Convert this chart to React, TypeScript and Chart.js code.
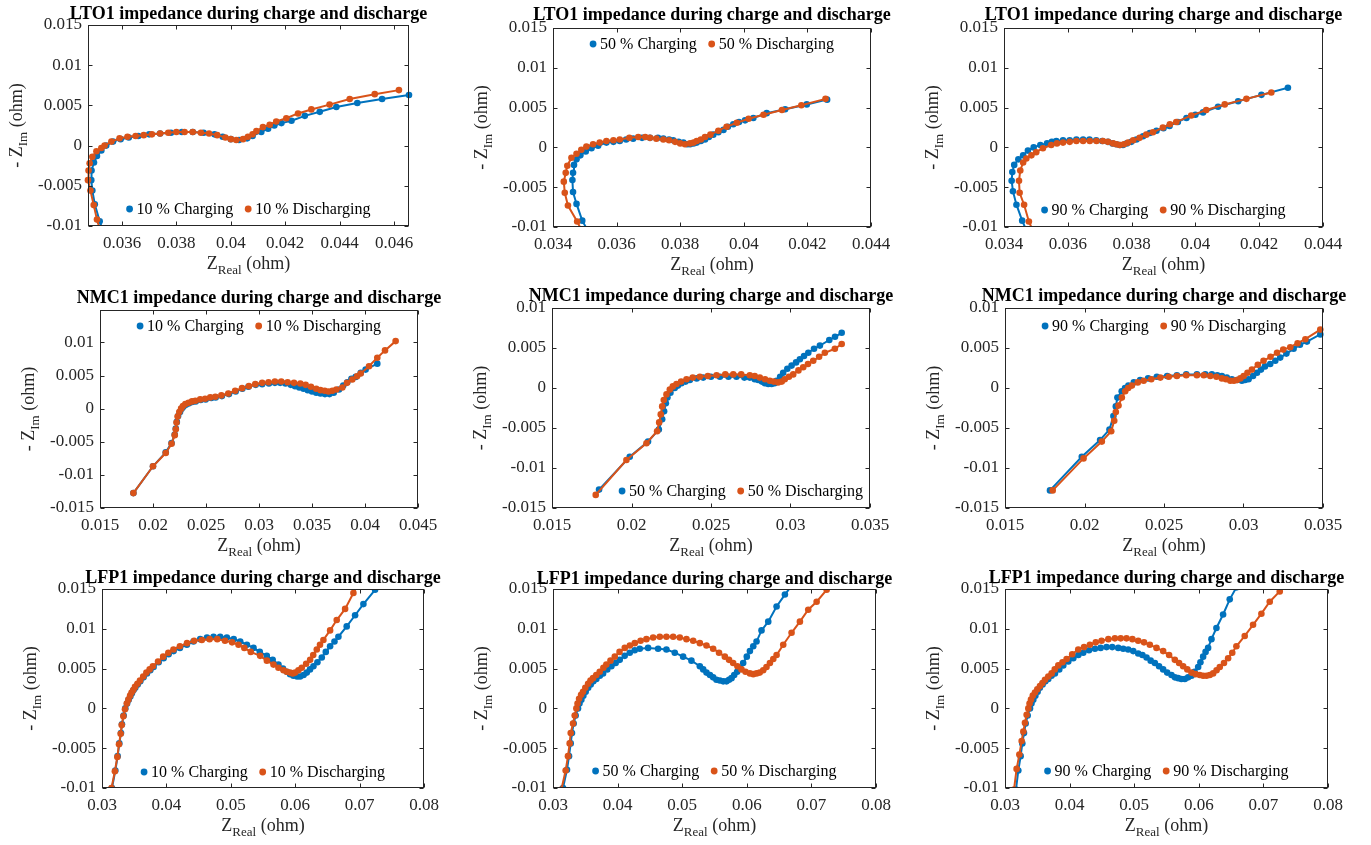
import React, { useEffect, useRef } from 'react';
import { Chart, registerables } from 'chart.js';

Chart.register(...registerables);

type Pt = [number, number];

// ---------------- DATA ----------------
const lto10Charge: Pt[] = [[0.03532,-0.0108],[0.03518,-0.0094],[0.035,-0.0073],[0.03491,-0.0056],[0.03487,-0.0043],[0.03488,-0.0031],[0.03497,-0.0021],[0.03508,-0.0013],[0.03524,-0.0006],[0.03542,0.0],[0.03567,0.0005],[0.03595,0.0008],[0.03625,0.001],[0.0366,0.0012],[0.037,0.0014],[0.0374,0.0015],[0.0378,0.0016],[0.0382,0.0017],[0.0386,0.0017],[0.039,0.0016],[0.0394,0.0014],[0.0397,0.0011],[0.04,0.0008],[0.0403,0.0007],[0.0406,0.0009],[0.0408,0.0012],[0.04112,0.0017],[0.04137,0.0021],[0.0416,0.0025],[0.04186,0.0028],[0.04223,0.0031],[0.04272,0.0037],[0.04327,0.0042],[0.04388,0.0048],[0.04465,0.0053],[0.04556,0.0058],[0.04655,0.0063]];
const lto10Discharge: Pt[] = [[0.03522,-0.0108],[0.03508,-0.0092],[0.03496,-0.0074],[0.03484,-0.0056],[0.03475,-0.0043],[0.03477,-0.0031],[0.03481,-0.0022],[0.03491,-0.0014],[0.03506,-0.0007],[0.03524,-0.0003],[0.03536,0.0],[0.03561,0.0005],[0.03591,0.0009],[0.0362,0.0011],[0.0365,0.0012],[0.0368,0.0013],[0.0371,0.0014],[0.0374,0.0015],[0.0377,0.0016],[0.038,0.0017],[0.0383,0.0017],[0.0386,0.0017],[0.0389,0.0016],[0.0392,0.0015],[0.0395,0.0013],[0.0398,0.001],[0.04,0.0008],[0.0402,0.0007],[0.04045,0.0008],[0.04063,0.0011],[0.0408,0.0014],[0.04094,0.0018],[0.04118,0.0023],[0.04143,0.0026],[0.04167,0.003],[0.04204,0.0034],[0.04247,0.004],[0.04296,0.0045],[0.04363,0.0051],[0.04437,0.0058],[0.04529,0.0064],[0.04618,0.0069]];
const lto50Charge: Pt[] = [[0.0351,-0.0105],[0.03492,-0.0092],[0.03474,-0.0071],[0.03463,-0.0056],[0.03461,-0.0041],[0.03463,-0.0032],[0.03466,-0.0022],[0.03474,-0.0015],[0.03486,-0.001],[0.03503,-0.0005],[0.03521,-0.0001],[0.03542,0.0002],[0.03568,0.0006],[0.0359,0.0007],[0.0361,0.0008],[0.0363,0.001],[0.03652,0.0011],[0.0368,0.0012],[0.03705,0.0012],[0.0373,0.0012],[0.03747,0.0011],[0.03765,0.001],[0.03778,0.0009],[0.03795,0.0007],[0.0381,0.0006],[0.03822,0.0004],[0.03831,0.0004],[0.03842,0.0005],[0.03852,0.0006],[0.03865,0.0008],[0.03878,0.001],[0.0389,0.0013],[0.03904,0.0016],[0.0392,0.0019],[0.03936,0.0022],[0.0395,0.0026],[0.03967,0.0029],[0.03985,0.0032],[0.04004,0.0034],[0.0403,0.0037],[0.04072,0.0043],[0.0413,0.0048],[0.04198,0.0054],[0.04262,0.006]];
const lto50Discharge: Pt[] = [[0.03492,-0.0106],[0.03476,-0.0093],[0.03447,-0.0073],[0.03437,-0.0057],[0.03434,-0.0043],[0.0344,-0.0032],[0.03445,-0.0023],[0.03458,-0.0013],[0.03474,-0.0008],[0.03489,-0.0003],[0.03505,0.0001],[0.03526,0.0004],[0.03547,0.0006],[0.03568,0.0008],[0.0359,0.0009],[0.0361,0.001],[0.0364,0.0012],[0.03668,0.0013],[0.0369,0.0013],[0.03705,0.0012],[0.03725,0.0011],[0.03747,0.001],[0.03765,0.0009],[0.03784,0.0007],[0.038,0.0005],[0.03815,0.0004],[0.03831,0.0005],[0.03842,0.0006],[0.03852,0.0008],[0.03865,0.001],[0.03878,0.0013],[0.03895,0.0016],[0.0392,0.0021],[0.03946,0.0026],[0.03978,0.0031],[0.04015,0.0036],[0.04062,0.0041],[0.0412,0.0047],[0.04181,0.0053],[0.04257,0.0061]];
const lto90Charge: Pt[] = [[0.03472,-0.0106],[0.03457,-0.0092],[0.03439,-0.0072],[0.03428,-0.0055],[0.03424,-0.0042],[0.03426,-0.0031],[0.03432,-0.0022],[0.03445,-0.0015],[0.0346,-0.001],[0.03475,-0.0004],[0.03493,0.0],[0.03514,0.0003],[0.03535,0.0005],[0.0355,0.0007],[0.03564,0.0008],[0.03585,0.0009],[0.03606,0.0009],[0.03627,0.001],[0.03648,0.001],[0.03668,0.001],[0.03689,0.0009],[0.03708,0.0008],[0.03726,0.0007],[0.0374,0.0005],[0.03752,0.0004],[0.03763,0.0003],[0.03773,0.0003],[0.03785,0.0005],[0.03799,0.0007],[0.03815,0.001],[0.03836,0.0014],[0.03857,0.0018],[0.03878,0.0021],[0.039,0.0024],[0.03919,0.0027],[0.03945,0.0032],[0.03972,0.0037],[0.04,0.0041],[0.04024,0.0044],[0.04071,0.0051],[0.04134,0.0058],[0.04207,0.0066],[0.0429,0.0075]];
const lto90Discharge: Pt[] = [[0.03492,-0.0106],[0.03478,-0.0093],[0.03463,-0.0072],[0.03449,-0.0057],[0.03447,-0.0042],[0.03451,-0.0029],[0.0346,-0.0019],[0.0347,-0.0014],[0.03486,-0.001],[0.03501,-0.0006],[0.03522,-0.0001],[0.03548,0.0003],[0.03566,0.0005],[0.03585,0.0006],[0.03606,0.0007],[0.03627,0.0008],[0.03648,0.0008],[0.03669,0.0008],[0.0369,0.0008],[0.0371,0.0008],[0.03726,0.0007],[0.03742,0.0005],[0.03753,0.0004],[0.03763,0.0003],[0.03776,0.0004],[0.03789,0.0006],[0.03805,0.0009],[0.03825,0.0012],[0.03846,0.0016],[0.03867,0.0019],[0.03898,0.0025],[0.0392,0.0029],[0.0394,0.0032],[0.03987,0.004],[0.04034,0.0047],[0.04092,0.0054],[0.0416,0.0061],[0.04238,0.0069]];

const nmc10Charge: Pt[] = [[0.01815,-0.01275],[0.02,-0.0087],[0.0212,-0.0066],[0.02175,-0.0052],[0.02205,-0.0039],[0.02215,-0.003],[0.02225,-0.002],[0.02237,-0.0011],[0.02255,-0.0005],[0.0227,0.0],[0.02286,0.0003],[0.0231,0.0006],[0.0234,0.0008],[0.0237,0.001],[0.02403,0.0011],[0.0245,0.0013],[0.02497,0.0014],[0.0255,0.0016],[0.02591,0.0017],[0.0265,0.0019],[0.02717,0.0022],[0.0278,0.0026],[0.02843,0.003],[0.029,0.0033],[0.02969,0.0036],[0.0303,0.0037],[0.03094,0.0038],[0.0315,0.0039],[0.032,0.0039],[0.0325,0.0038],[0.033,0.0036],[0.0334,0.0034],[0.0338,0.0032],[0.0342,0.003],[0.0346,0.0028],[0.035,0.0026],[0.0354,0.0024],[0.0358,0.0023],[0.03622,0.0022],[0.03665,0.0022],[0.03705,0.0024],[0.03755,0.0029],[0.03795,0.0035],[0.03833,0.004],[0.03872,0.0045],[0.03912,0.0048],[0.0396,0.0054],[0.04006,0.0059],[0.04116,0.0068]];
const nmc10Discharge: Pt[] = [[0.01815,-0.01275],[0.02,-0.0087],[0.0212,-0.0067],[0.02175,-0.0053],[0.02205,-0.004],[0.02215,-0.0031],[0.02222,-0.0021],[0.02232,-0.0012],[0.02248,-0.0005],[0.02265,0.0],[0.02283,0.0004],[0.02305,0.0007],[0.02335,0.0009],[0.02368,0.0011],[0.024,0.0012],[0.02445,0.0014],[0.02492,0.0015],[0.0254,0.0017],[0.02588,0.0018],[0.02645,0.002],[0.0271,0.0023],[0.02775,0.0027],[0.0284,0.0031],[0.02905,0.0034],[0.02965,0.0037],[0.0303,0.0039],[0.0309,0.004],[0.0315,0.0041],[0.0321,0.0041],[0.0327,0.004],[0.0333,0.0039],[0.0339,0.0038],[0.0344,0.0036],[0.0349,0.0033],[0.0354,0.003],[0.0358,0.0028],[0.0362,0.0027],[0.03655,0.0026],[0.03692,0.0027],[0.0373,0.0029],[0.03786,0.0032],[0.0383,0.0039],[0.0388,0.0044],[0.03925,0.0049],[0.03959,0.0053],[0.04038,0.0064],[0.04116,0.0077],[0.04189,0.0088],[0.04289,0.0102]];
const nmc50Charge: Pt[] = [[0.01796,-0.0127],[0.01989,-0.0086],[0.02104,-0.0067],[0.02172,-0.0052],[0.02193,-0.0039],[0.02205,-0.0029],[0.02216,-0.0019],[0.02226,-0.0012],[0.02245,-0.0006],[0.02272,0.0],[0.02292,0.0003],[0.02314,0.0006],[0.0234,0.0008],[0.02367,0.001],[0.0241,0.0012],[0.02451,0.0013],[0.025,0.0014],[0.02556,0.0014],[0.0261,0.0014],[0.0266,0.0014],[0.0271,0.0013],[0.02744,0.0013],[0.02775,0.0011],[0.02797,0.001],[0.0282,0.0008],[0.02839,0.0006],[0.0286,0.0005],[0.02881,0.0005],[0.029,0.0006],[0.02912,0.0009],[0.02935,0.0014],[0.02954,0.0019],[0.0298,0.0024],[0.03007,0.0028],[0.03035,0.0032],[0.03059,0.0036],[0.03085,0.004],[0.03112,0.0044],[0.03148,0.0049],[0.03185,0.0053],[0.03244,0.006],[0.0328,0.0064],[0.03322,0.0069]];
const nmc50Discharge: Pt[] = [[0.01775,-0.01336],[0.01968,-0.009],[0.02094,-0.0069],[0.02161,-0.0054],[0.02174,-0.0043],[0.02184,-0.0033],[0.02193,-0.0023],[0.02203,-0.0015],[0.0222,-0.0008],[0.02241,-0.0002],[0.0226,0.0002],[0.02283,0.0005],[0.02312,0.0008],[0.02346,0.0011],[0.02385,0.0013],[0.0243,0.0014],[0.0248,0.0015],[0.02535,0.0016],[0.0259,0.0017],[0.0264,0.0017],[0.0269,0.0017],[0.02744,0.0016],[0.02775,0.0015],[0.02807,0.0013],[0.0284,0.0011],[0.0287,0.0009],[0.02895,0.0008],[0.02922,0.0007],[0.02945,0.0008],[0.02964,0.0011],[0.0299,0.0014],[0.03017,0.0017],[0.0305,0.0022],[0.0308,0.0026],[0.0311,0.003],[0.03143,0.0034],[0.0318,0.0039],[0.03216,0.0044],[0.03279,0.0049],[0.03322,0.0055]];
const nmc90Charge: Pt[] = [[0.01783,-0.0128],[0.01983,-0.0086],[0.02098,-0.0065],[0.02157,-0.0052],[0.02182,-0.0035],[0.02197,-0.0023],[0.02207,-0.0012],[0.02234,-0.0004],[0.02255,0.0],[0.02276,0.0003],[0.0231,0.0007],[0.0235,0.001],[0.024,0.0012],[0.02455,0.0014],[0.0252,0.0015],[0.02581,0.0016],[0.0264,0.0017],[0.02707,0.0017],[0.0276,0.0017],[0.02801,0.0017],[0.02835,0.0016],[0.02864,0.0015],[0.02895,0.0013],[0.02927,0.0011],[0.0296,0.001],[0.0299,0.0009],[0.0301,0.001],[0.03032,0.0011],[0.0306,0.0015],[0.03085,0.0019],[0.0311,0.0023],[0.03135,0.0027],[0.03168,0.003],[0.032,0.0034],[0.03231,0.0038],[0.0327,0.0043],[0.03315,0.0049],[0.03355,0.0054],[0.03399,0.0058],[0.03483,0.0067]];
const nmc90Discharge: Pt[] = [[0.018,-0.0128],[0.01994,-0.0088],[0.02109,-0.0067],[0.02168,-0.0054],[0.02187,-0.0041],[0.02197,-0.003],[0.02214,-0.0022],[0.02235,-0.0012],[0.02256,-0.0004],[0.02275,0.0],[0.02298,0.0003],[0.02335,0.0007],[0.02372,0.0009],[0.0242,0.0011],[0.02477,0.0013],[0.0253,0.0014],[0.02581,0.0015],[0.0264,0.0016],[0.02707,0.0016],[0.0275,0.0016],[0.02791,0.0015],[0.0283,0.0014],[0.02864,0.0012],[0.0289,0.0011],[0.02917,0.0009],[0.0294,0.0009],[0.02959,0.001],[0.0298,0.0012],[0.03001,0.0015],[0.03025,0.0019],[0.03053,0.0023],[0.0309,0.0029],[0.03126,0.0034],[0.0317,0.0039],[0.03211,0.0044],[0.0325,0.0048],[0.03294,0.0051],[0.0334,0.0056],[0.03389,0.0061],[0.03483,0.0073]];

const lfp10Charge: Pt[] = [[0.03129,-0.0115],[0.03155,-0.01],[0.03207,-0.0078],[0.03243,-0.006],[0.03269,-0.0044],[0.03295,-0.0031],[0.0331,-0.002],[0.03336,-0.0009],[0.03362,0.0],[0.0339,0.0006],[0.03414,0.0011],[0.0344,0.0015],[0.03465,0.0019],[0.0349,0.0023],[0.03517,0.0026],[0.03555,0.003],[0.03595,0.0034],[0.03645,0.0039],[0.03698,0.0044],[0.0375,0.0048],[0.03801,0.0052],[0.0388,0.0058],[0.03957,0.0063],[0.04035,0.0068],[0.04112,0.0072],[0.0421,0.0076],[0.04318,0.008],[0.0442,0.0084],[0.04525,0.0087],[0.0463,0.0089],[0.04732,0.009],[0.04835,0.009],[0.04939,0.0089],[0.05045,0.0087],[0.05146,0.0084],[0.0525,0.008],[0.05353,0.0076],[0.0545,0.0071],[0.05559,0.0066],[0.0565,0.0061],[0.0574,0.0055],[0.0581,0.005],[0.0587,0.0046],[0.0592,0.0043],[0.05973,0.0041],[0.0603,0.004],[0.06077,0.004],[0.0613,0.0042],[0.0618,0.0045],[0.0623,0.0049],[0.06283,0.0053],[0.06345,0.0058],[0.06413,0.0064],[0.06475,0.0071],[0.06542,0.0078],[0.0661,0.0084],[0.06671,0.009],[0.068,0.0103],[0.0693,0.0117],[0.07059,0.0131],[0.0724,0.0149],[0.0737,0.0163]];
const lfp10Discharge: Pt[] = [[0.0312,-0.0115],[0.03148,-0.01],[0.032,-0.0079],[0.03238,-0.0061],[0.03264,-0.0045],[0.0329,-0.0032],[0.03306,-0.0021],[0.03332,-0.001],[0.03357,-0.0001],[0.03385,0.0006],[0.0341,0.0011],[0.03436,0.0016],[0.0346,0.002],[0.03486,0.0023],[0.03512,0.0027],[0.0355,0.0031],[0.0359,0.0035],[0.0364,0.004],[0.0369,0.0045],[0.0374,0.0049],[0.0379,0.0053],[0.0387,0.0059],[0.0395,0.0065],[0.0403,0.007],[0.0411,0.0074],[0.0421,0.0078],[0.0432,0.0082],[0.0443,0.0085],[0.0455,0.0086],[0.0467,0.0087],[0.0479,0.0087],[0.0491,0.0085],[0.0502,0.0083],[0.0512,0.008],[0.0521,0.0076],[0.0531,0.0071],[0.05456,0.0066],[0.0556,0.006],[0.05663,0.0055],[0.0574,0.0051],[0.05818,0.0048],[0.0587,0.0046],[0.05921,0.0045],[0.0596,0.0044],[0.05999,0.0045],[0.0605,0.0048],[0.06102,0.0051],[0.0617,0.0056],[0.06232,0.0061],[0.0628,0.0067],[0.06335,0.0074],[0.06385,0.008],[0.06438,0.0086],[0.06542,0.0098],[0.06645,0.0111],[0.06775,0.0125],[0.06904,0.0145],[0.0698,0.0156]];
const lfp50Charge: Pt[] = [[0.0313,-0.0112],[0.03155,-0.01],[0.03217,-0.0077],[0.03248,-0.006],[0.03274,-0.0044],[0.03294,-0.0031],[0.0332,-0.0019],[0.03351,-0.0009],[0.03387,0.0],[0.0341,0.0006],[0.03439,0.0011],[0.0347,0.0016],[0.03506,0.0021],[0.03545,0.0026],[0.03584,0.003],[0.03625,0.0034],[0.03671,0.0037],[0.03725,0.0041],[0.03775,0.0044],[0.0384,0.0049],[0.03904,0.0053],[0.0397,0.0057],[0.04033,0.0061],[0.0411,0.0066],[0.04188,0.007],[0.04265,0.0073],[0.04343,0.0075],[0.04472,0.0076],[0.04627,0.0075],[0.04756,0.0074],[0.04885,0.007],[0.05014,0.0065],[0.05143,0.006],[0.05273,0.0053],[0.05325,0.0049],[0.05376,0.0045],[0.0543,0.0042],[0.05479,0.0039],[0.0553,0.0036],[0.05583,0.0035],[0.05635,0.0034],[0.05686,0.0034],[0.05725,0.0036],[0.05764,0.0038],[0.05805,0.0042],[0.05851,0.0046],[0.05895,0.0051],[0.05944,0.0057],[0.06,0.0065],[0.06048,0.0072],[0.061,0.0078],[0.06151,0.0084],[0.06228,0.0098],[0.06332,0.0109],[0.06461,0.0128],[0.0659,0.0143],[0.06693,0.0154],[0.0675,0.016]];
const lfp50Discharge: Pt[] = [[0.0311,-0.0112],[0.03129,-0.0102],[0.03196,-0.0078],[0.03232,-0.006],[0.03258,-0.0044],[0.03274,-0.0031],[0.0331,-0.0019],[0.03336,-0.0009],[0.03362,0.0],[0.0338,0.0006],[0.03404,0.0012],[0.03435,0.0017],[0.03465,0.0021],[0.035,0.0026],[0.03543,0.0031],[0.0358,0.0035],[0.0362,0.0038],[0.0367,0.0042],[0.03723,0.0046],[0.0378,0.0051],[0.03826,0.0055],[0.0389,0.006],[0.03956,0.0065],[0.0403,0.0071],[0.04111,0.0076],[0.0419,0.0079],[0.04266,0.0082],[0.04356,0.0085],[0.04446,0.0087],[0.0455,0.0089],[0.04653,0.009],[0.04756,0.009],[0.0486,0.009],[0.04963,0.0089],[0.05066,0.0087],[0.0517,0.0085],[0.05273,0.0082],[0.05376,0.0079],[0.05479,0.0075],[0.0557,0.007],[0.0566,0.0065],[0.05725,0.0061],[0.05789,0.0057],[0.05855,0.0053],[0.05918,0.0049],[0.0598,0.0046],[0.06048,0.0044],[0.061,0.0043],[0.06151,0.0044],[0.062,0.0045],[0.06254,0.0048],[0.06305,0.0052],[0.06358,0.0057],[0.0641,0.0062],[0.06461,0.0067],[0.06564,0.008],[0.06693,0.0095],[0.06822,0.0109],[0.06951,0.0124],[0.07081,0.0134],[0.07236,0.0149],[0.07313,0.0157]];
const lfp90Charge: Pt[] = [[0.0316,-0.011],[0.0317,-0.0102],[0.03206,-0.0078],[0.03242,-0.006],[0.03268,-0.0044],[0.03294,-0.0031],[0.0332,-0.0019],[0.03351,-0.0009],[0.03387,0.0],[0.0341,0.0006],[0.03438,0.0011],[0.0347,0.0016],[0.03505,0.0021],[0.0354,0.0026],[0.03582,0.003],[0.03625,0.0034],[0.0367,0.0037],[0.0372,0.0041],[0.03773,0.0044],[0.0384,0.0049],[0.03902,0.0054],[0.0398,0.0059],[0.04057,0.0063],[0.04135,0.0067],[0.04211,0.007],[0.043,0.0073],[0.04392,0.0075],[0.0448,0.0076],[0.04572,0.0077],[0.0466,0.0077],[0.04753,0.0076],[0.0483,0.0075],[0.04907,0.0074],[0.04985,0.0072],[0.05062,0.0069],[0.05127,0.0067],[0.05191,0.0064],[0.05255,0.006],[0.0532,0.0057],[0.05385,0.0053],[0.05448,0.0049],[0.0551,0.0045],[0.05577,0.0042],[0.0563,0.0039],[0.0568,0.0038],[0.0573,0.0037],[0.05784,0.0037],[0.05835,0.0039],[0.05887,0.0041],[0.05935,0.0046],[0.0599,0.0052],[0.06025,0.0058],[0.06067,0.0065],[0.06105,0.0071],[0.06144,0.0076],[0.06196,0.0087],[0.06273,0.0101],[0.06376,0.0118],[0.06479,0.0137],[0.06582,0.0152],[0.0663,0.016]];
const lfp90Discharge: Pt[] = [[0.0312,-0.0112],[0.03139,-0.0102],[0.0318,-0.0076],[0.03222,-0.0058],[0.03258,-0.0041],[0.03284,-0.0029],[0.03309,-0.0018],[0.03335,-0.0008],[0.03361,0.0],[0.0338,0.0006],[0.03402,0.0011],[0.0343,0.0016],[0.03464,0.002],[0.035,0.0024],[0.03541,0.0028],[0.0358,0.0032],[0.03619,0.0036],[0.0367,0.004],[0.03722,0.0044],[0.0377,0.0049],[0.03825,0.0054],[0.0389,0.0058],[0.03954,0.0062],[0.0404,0.0068],[0.04134,0.0074],[0.04224,0.0077],[0.04314,0.008],[0.04405,0.0083],[0.04495,0.0085],[0.046,0.0087],[0.04701,0.0088],[0.04791,0.0088],[0.04881,0.0088],[0.04972,0.0087],[0.05062,0.0085],[0.05152,0.0083],[0.05242,0.008],[0.05345,0.0076],[0.05448,0.0072],[0.0554,0.0067],[0.05629,0.0061],[0.05695,0.0057],[0.05758,0.0053],[0.05822,0.0049],[0.05887,0.0045],[0.0595,0.0043],[0.06015,0.0042],[0.06067,0.0041],[0.06119,0.0041],[0.0617,0.0042],[0.06222,0.0044],[0.06275,0.0048],[0.06325,0.0052],[0.0639,0.0057],[0.06454,0.0063],[0.06518,0.007],[0.06582,0.0078],[0.06711,0.0091],[0.0684,0.0105],[0.06969,0.0119],[0.07098,0.0134],[0.07253,0.0147],[0.07407,0.0161]];

const chemistries = ['LTO1', 'NMC1', 'LFP1'];
const socLevels = ['10', '50', '90'];

const ltoXTicks10 = [0.036, 0.038, 0.04, 0.042, 0.044, 0.046];
const ltoXTicks = [0.034, 0.036, 0.038, 0.04, 0.042, 0.044];
const ltoYTicks = [-0.01, -0.005, 0, 0.005, 0.01, 0.015];
const nmcXTicks10 = [0.015, 0.02, 0.025, 0.03, 0.035, 0.04, 0.045];
const nmcXTicks = [0.015, 0.02, 0.025, 0.03, 0.035];
const nmcYTicks = [-0.015, -0.01, -0.005, 0, 0.005, 0.01];
const lfpXTicks = [0.03, 0.04, 0.05, 0.06, 0.07, 0.08];
const lfpYTicks = [-0.01, -0.005, 0, 0.005, 0.01, 0.015];

// axis limits [min, max]
const ltoXLim10 = [0.03475, 0.04655];
const ltoXLim = [0.034, 0.044];
const ltoYLim = [-0.01, 0.015];
const nmcXLim10 = [0.015, 0.045];
const nmcYLim10 = [-0.015, 0.0149];
const nmcXLim = [0.015, 0.035];
const nmcYLim = [-0.015, 0.01];
const lfpXLim = [0.03, 0.08];
const lfpYLim = [-0.01, 0.015];

// ---------------- STYLE / LAYOUT ----------------
const BLUE = '#0072BD';
const ORANGE = '#D95319';
const AXIS = '#262626';
const SERIF = "'Liberation Serif', 'Times New Roman', Times, serif";
const Y_AXIS_W = 60;
const X_AXIS_H = 30;
const TICK_LEN = 4;

const cellX = [0, 460, 910];
const cellW = [460, 450, 461];
const cellY = [0, 280, 560];
const cellH = [280, 280, 285];

type Box = { l: number; t: number; r: number; b: number };
const boxes: Box[][] = [
  [{ l: 88, t: 25, r: 409, b: 226 }, { l: 553, t: 28, r: 871, b: 227 }, { l: 1004, t: 28, r: 1323, b: 227 }],
  [{ l: 100, t: 310, r: 418, b: 508 }, { l: 552, t: 308, r: 870, b: 508 }, { l: 1005, t: 308, r: 1323, b: 508 }],
  [{ l: 102, t: 589, r: 424, b: 788 }, { l: 553, t: 589, r: 876, b: 788 }, { l: 1005, t: 589, r: 1328, b: 788 }],
];
const titleBaselines = [[19, 20, 20], [303, 301, 301], [583, 584, 583]];
const legendCenters = [[209, 44, 210], [326, 491, 326], [772, 771, 771]];
// horizontal legend centre: null = centred on the axes box
const legendCentersX: (number | null)[][] = [[null, null, null], [null, 741, null], [null, null, null]];

const seriesGrid: [Pt[], Pt[]][][] = [
  [[lto10Charge, lto10Discharge], [lto50Charge, lto50Discharge], [lto90Charge, lto90Discharge]],
  [[nmc10Charge, nmc10Discharge], [nmc50Charge, nmc50Discharge], [nmc90Charge, nmc90Discharge]],
  [[lfp10Charge, lfp10Discharge], [lfp50Charge, lfp50Discharge], [lfp90Charge, lfp90Discharge]],
];
const xTickGrid = [[ltoXTicks10, ltoXTicks, ltoXTicks], [nmcXTicks10, nmcXTicks, nmcXTicks], [lfpXTicks, lfpXTicks, lfpXTicks]];
const yTickGrid = [[ltoYTicks, ltoYTicks, ltoYTicks], [nmcYTicks, nmcYTicks, nmcYTicks], [lfpYTicks, lfpYTicks, lfpYTicks]];
const xLimGrid = [[ltoXLim10, ltoXLim, ltoXLim], [nmcXLim10, nmcXLim, nmcXLim], [lfpXLim, lfpXLim, lfpXLim]];
const yLimGrid = [[ltoYLim, ltoYLim, ltoYLim], [nmcYLim10, nmcYLim, nmcYLim], [lfpYLim, lfpYLim, lfpYLim]];

const fmt = (v: number) => String(parseFloat(v.toFixed(5)));

type Part = { text: string; font: string; dy: number };
function drawParts(ctx: CanvasRenderingContext2D, parts: Part[], cx: number, y: number) {
  let total = 0;
  for (const p of parts) {
    ctx.font = p.font;
    total += ctx.measureText(p.text).width;
  }
  let x = cx - total / 2;
  for (const p of parts) {
    ctx.font = p.font;
    ctx.fillText(p.text, x, y + p.dy);
    x += ctx.measureText(p.text).width;
  }
}

const decorPlugin = {
  id: 'decor',
  afterDraw(chart: any, _args: any, opts: any) {
    const { ctx, chartArea: a } = chart;
    const xs = chart.scales.x;
    const ys = chart.scales.y;
    ctx.save();
    // box + inward ticks
    ctx.strokeStyle = AXIS;
    ctx.lineWidth = 1;
    const L = Math.round(a.left) + 0.5;
    const R = Math.round(a.right) - 0.5;
    const T = Math.round(a.top) + 0.5;
    const B = Math.round(a.bottom) - 0.5;
    ctx.strokeRect(L, T, R - L, B - T);
    ctx.beginPath();
    for (const t of xs.ticks) {
      const px = Math.round(xs.getPixelForValue(t.value)) + 0.5;
      ctx.moveTo(px, B); ctx.lineTo(px, B - TICK_LEN);
      ctx.moveTo(px, T); ctx.lineTo(px, T + TICK_LEN);
    }
    for (const t of ys.ticks) {
      const py = Math.round(ys.getPixelForValue(t.value)) + 0.5;
      ctx.moveTo(L, py); ctx.lineTo(L + TICK_LEN, py);
      ctx.moveTo(R, py); ctx.lineTo(R - TICK_LEN, py);
    }
    ctx.stroke();

    const cx = (a.left + a.right) / 2;
    const cy = (a.top + a.bottom) / 2;
    ctx.fillStyle = '#000';
    ctx.textAlign = 'left';
    ctx.textBaseline = 'alphabetic';

    // title
    drawParts(ctx, [{ text: opts.title, font: `bold 18px ${SERIF}`, dy: 0 }], cx, opts.titleY);

    // x label
    ctx.fillStyle = AXIS;
    drawParts(ctx, [
      { text: 'Z', font: `18px ${SERIF}`, dy: 0 },
      { text: 'Real', font: `13px ${SERIF}`, dy: 5 },
      { text: ' (ohm)', font: `18px ${SERIF}`, dy: 0 },
    ], cx, a.bottom + 43);

    // y label (rotated)
    ctx.save();
    ctx.translate(a.left - 66, cy);
    ctx.rotate(-Math.PI / 2);
    drawParts(ctx, [
      { text: '- Z', font: `18px ${SERIF}`, dy: 0 },
      { text: 'Im', font: `13px ${SERIF}`, dy: 5 },
      { text: ' (ohm)', font: `18px ${SERIF}`, dy: 0 },
    ], 0, 0);
    ctx.restore();

    // legend
    ctx.font = `16px ${SERIF}`;
    const items = chart.data.datasets.map((d: any) => ({ label: d.label, color: d.borderColor }));
    const widths = items.map((it: any) => 10 + ctx.measureText(it.label).width);
    const total = widths.reduce((s: number, w: number) => s + w, 0) + 12 * (items.length - 1);
    const lcx = opts.legendX != null ? opts.legendX : cx;
    let x = lcx - total / 2;
    ctx.textBaseline = 'middle';
    items.forEach((it: any, i: number) => {
      ctx.fillStyle = it.color;
      ctx.beginPath();
      ctx.arc(x + 3, opts.legendY, 3.4, 0, Math.PI * 2);
      ctx.fill();
      ctx.fillStyle = '#000';
      ctx.fillText(it.label, x + 10, opts.legendY + 1);
      x += widths[i] + 12;
    });
    ctx.restore();
  },
};

type PanelProps = { row: number; col: number };

function Panel({ row, col }: PanelProps) {
  const ref = useRef<HTMLCanvasElement>(null);
  const box = boxes[row][col];
  const left = cellX[col];
  const top = cellY[row];
  const w = cellW[col];
  const h = cellH[row];

  useEffect(() => {
    const [charge, discharge] = seriesGrid[row][col];
    const soc = socLevels[col];
    const xTicks = xTickGrid[row][col];
    const yTicks = yTickGrid[row][col];
    const [xMin, xMax] = xLimGrid[row][col];
    const [yMin, yMax] = yLimGrid[row][col];
    const tickFont = { family: SERIF, size: 17 };
    const lx = legendCentersX[row][col];
    const mk = (label: string, pts: Pt[], color: string, order: number) => ({
      label,
      data: pts.map(([x, y]) => ({ x, y })),
      showLine: true,
      borderColor: color,
      backgroundColor: color,
      borderWidth: 2,
      pointRadius: 3.3,
      pointBorderWidth: 0,
      pointHoverRadius: 3.3,
      clip: { left: 5, right: 5, top: 0, bottom: 0 },
      order,
    });
    const chart = new Chart(ref.current as HTMLCanvasElement, {
      type: 'scatter',
      data: {
        datasets: [
          mk(`${soc} % Charging`, charge, BLUE, 1),
          mk(`${soc} % Discharging`, discharge, ORANGE, 0),
        ],
      },
      options: {
        responsive: false,
        animation: false,
        events: [],
        layout: {
          padding: {
            left: box.l - left - Y_AXIS_W,
            top: box.t - top,
            right: left + w - box.r,
            bottom: top + h - box.b - X_AXIS_H,
          },
        },
        plugins: {
          legend: { display: false },
          tooltip: { enabled: false },
          title: { display: false },
          decor: {
            title: `${chemistries[row]} impedance during charge and discharge`,
            titleY: titleBaselines[row][col] - top,
            legendY: legendCenters[row][col] - top,
            legendX: lx != null ? lx - left : null,
          },
        } as any,
        scales: {
          x: {
            type: 'linear',
            min: xMin,
            max: xMax,
            afterBuildTicks: (s: any) => { s.ticks = xTicks.map((v) => ({ value: v })); },
            afterFit: (s: any) => { s.height = X_AXIS_H; s.paddingLeft = 0; s.paddingRight = 0; },
            grid: { display: false, drawTicks: false },
            border: { display: false },
            ticks: { font: tickFont, color: AXIS, padding: 7, autoSkip: false, maxRotation: 0, callback: (v: any) => fmt(Number(v)) },
          },
          y: {
            type: 'linear',
            min: yMin,
            max: yMax,
            afterBuildTicks: (s: any) => { s.ticks = yTicks.map((v) => ({ value: v })); },
            afterFit: (s: any) => { s.width = Y_AXIS_W; s.paddingTop = 0; s.paddingBottom = 0; },
            grid: { display: false, drawTicks: false },
            border: { display: false },
            ticks: { font: tickFont, color: AXIS, padding: 6, autoSkip: false, callback: (v: any) => fmt(Number(v)) },
          },
        },
      },
      plugins: [decorPlugin as any],
    });
    return () => chart.destroy();
  }, [row, col]);

  return (
    <canvas
      ref={ref}
      width={w}
      height={h}
      style={{ position: 'absolute', left, top, width: w, height: h }}
    />
  );
}

export default function App() {
  const cells: PanelProps[] = [];
  for (let r = 0; r < 3; r++) for (let c = 0; c < 3; c++) cells.push({ row: r, col: c });
  return (
    <div style={{ position: 'absolute', left: 0, top: 0, width: 1371, height: 845, background: '#fff' }}>
      {cells.map((p) => (
        <Panel key={`${p.row}-${p.col}`} row={p.row} col={p.col} />
      ))}
    </div>
  );
}
